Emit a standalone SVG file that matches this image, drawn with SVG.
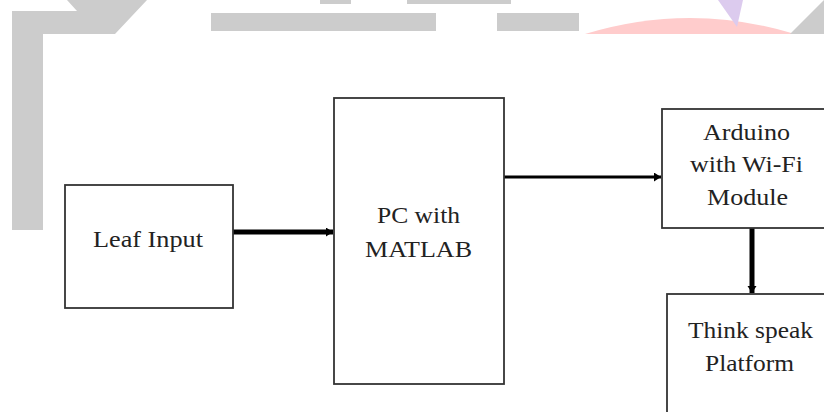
<svg xmlns="http://www.w3.org/2000/svg" width="824" height="412" viewBox="0 0 824 412">
  <style>
    .box { fill: #ffffff; stroke: #333333; stroke-width: 1.8; }
    .lbl { font-family: "Liberation Serif", "Times New Roman", serif; font-size: 23px; fill: #222222; text-anchor: middle; }
    .conn { stroke: #000000; fill: none; }
    .deco { fill: #cccccc; }
  </style>
  <defs>
    <marker id="ah" markerUnits="userSpaceOnUse" markerWidth="8" markerHeight="10" refX="7" refY="4.5" orient="auto">
      <path d="M0,0 L7,4.5 L0,9 z" fill="#000000"/>
    </marker>
  </defs>
  <rect width="824" height="412" fill="#ffffff"/>

  <g id="background">
    <polygon class="deco" points="67,0 147,0 115,34 43,34 43,230 12,230 12,11 77,11"/>
    <rect class="deco" x="320" y="0" width="31" height="4"/>
    <rect class="deco" x="407" y="0" width="104" height="4"/>
    <rect class="deco" x="211" y="13" width="225" height="18"/>
    <rect class="deco" x="497" y="13" width="82" height="18"/>
    <path d="M585,34 Q690,2 795,34 Z" fill="#ffcccc"/>
    <polygon points="718,0 743,0 737,27" fill="#dccbee"/>
    <polygon class="deco" points="790,34 824,0 824,34"/>
  </g>

  <g id="connectors">
    <line class="conn" x1="233" y1="232" x2="333" y2="232" stroke-width="5" marker-end="url(#ah)"/>
    <line class="conn" x1="504" y1="177" x2="661" y2="177" stroke-width="3" marker-end="url(#ah)"/>
    <line class="conn" x1="752" y1="228" x2="752" y2="293" stroke-width="5" marker-end="url(#ah)"/>
  </g>

  <g id="leaf-input">
    <rect class="box" x="65" y="185" width="168" height="123"/>
    <text class="lbl" x="148" y="247" textLength="110" lengthAdjust="spacingAndGlyphs">Leaf Input</text>
  </g>

  <g id="pc-matlab">
    <rect class="box" x="334" y="98" width="170" height="286"/>
    <text class="lbl" x="418.5" y="223" textLength="83" lengthAdjust="spacingAndGlyphs">PC with</text>
    <text class="lbl" x="418.5" y="257" textLength="107" lengthAdjust="spacingAndGlyphs">MATLAB</text>
  </g>

  <g id="arduino">
    <rect class="box" x="662" y="109" width="172" height="119"/>
    <text class="lbl" x="746.5" y="140" textLength="87" lengthAdjust="spacingAndGlyphs">Arduino</text>
    <text class="lbl" x="746.5" y="172" textLength="113" lengthAdjust="spacingAndGlyphs">with Wi-Fi</text>
    <text class="lbl" x="747.5" y="205" textLength="81" lengthAdjust="spacingAndGlyphs">Module</text>
  </g>

  <g id="thingspeak">
    <rect class="box" x="667" y="294" width="170" height="130"/>
    <text class="lbl" x="750.5" y="338" textLength="125" lengthAdjust="spacingAndGlyphs">Think speak</text>
    <text class="lbl" x="749.5" y="371" textLength="89" lengthAdjust="spacingAndGlyphs">Platform</text>
  </g>
</svg>
